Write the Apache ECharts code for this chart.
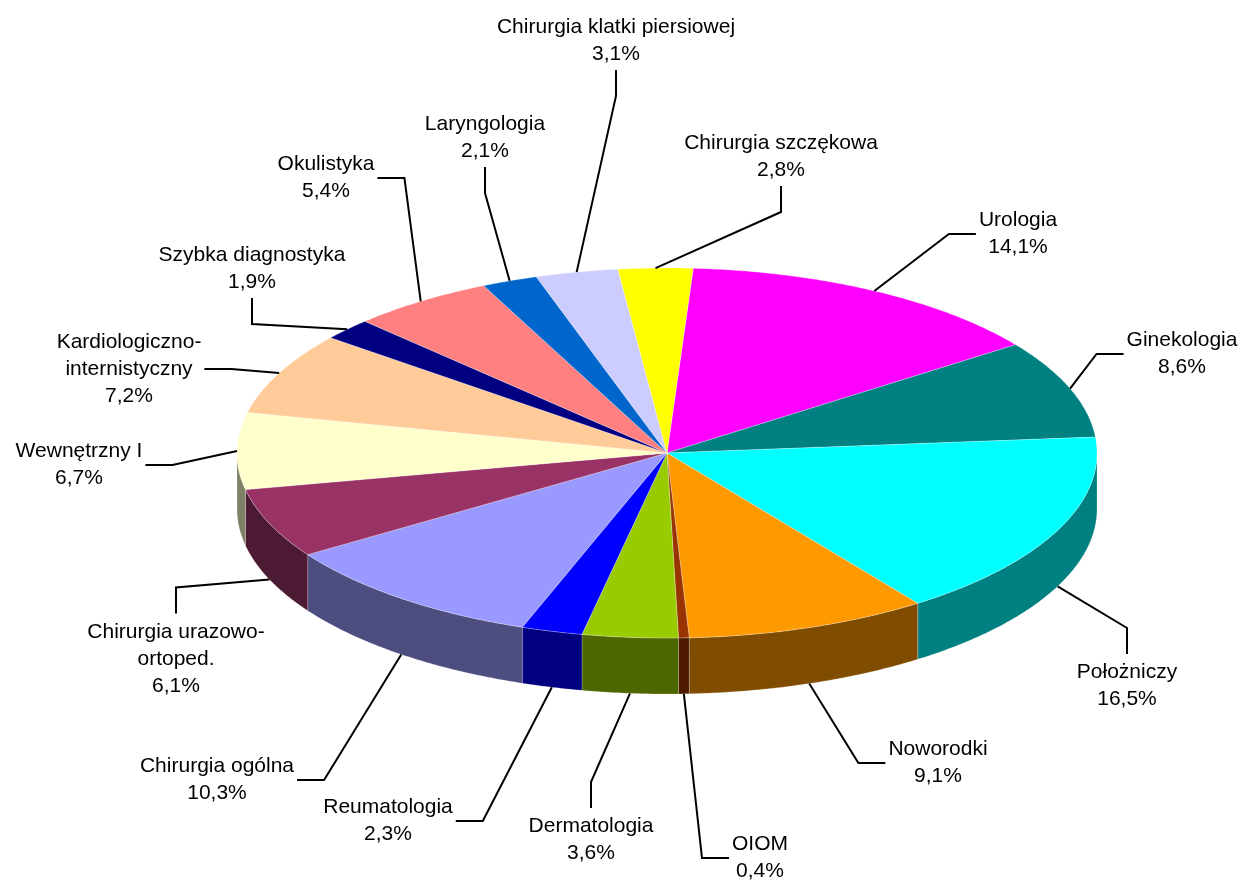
<!DOCTYPE html>
<html>
<head>
<meta charset="utf-8">
<script src="https://cdn.jsdelivr.net/npm/echarts@6/dist/echarts.min.js"></script>
<style>
html,body{margin:0;padding:0;background:#ffffff;}
#chart{width:1242px;height:880px;}
</style>
</head>
<body>
<div id="chart"></div>
<script>
// ---- data ----
const categories = [
  'Urologia', 'Ginekologia', 'Położniczy', 'Noworodki', 'OIOM', 'Dermatologia',
  'Reumatologia', 'Chirurgia ogólna', 'Chirurgia urazowo-\nortoped.', 'Wewnętrzny I',
  'Kardiologiczno-\ninternistyczny', 'Szybka diagnostyka', 'Okulistyka', 'Laryngologia',
  'Chirurgia klatki piersiowej', 'Chirurgia szczękowa'
];
const values = [14.1, 8.6, 16.5, 9.1, 0.4, 3.6, 2.3, 10.3, 6.1, 6.7, 7.2, 1.9, 5.4, 2.1, 3.1, 2.8];

// ---- styles / layout ----
const topColors = [
  '#FF00FF', '#008080', '#00FFFF', '#FF9900', '#993300', '#99CC00',
  '#0000FF', '#9999FF', '#993366', '#FFFFCC',
  '#FFCC99', '#000080', '#FF8080', '#0066CC',
  '#CCCCFF', '#FFFF00'
];
// label block centre and the side of the block the leader line attaches to
const labelLayout = [
  [1018, 234, 'l'], [1182, 354, 'l'], [1127, 686, 't'], [938, 763, 'l'],
  [760, 858, 'l'], [591, 840, 't'], [388, 821, 'r'], [217, 780, 'r'],
  [176, 659, 't'], [79, 465, 'r'], [129, 369, 'r'], [252, 269, 'b'],
  [326, 178, 'r'], [485, 138, 'b'], [616, 41, 'b'], [781, 157, 'b']
];
const PIE = { cx: 667, cy: 453, rx: 430, ry: 185, depth: 56, start: 3.5 };
const FONT = '21px "Liberation Sans", Arial, sans-serif';
const LINE_H = 27;

const total = values.reduce((a, b) => a + b, 0);
const starts = [];
(function () { let a = PIE.start; values.forEach(v => { starts.push(a); a += v / total * 360; }); })();

const measureCtx = document.createElement('canvas').getContext('2d');
measureCtx.font = FONT;

function shade(hex, f) {
  const n = parseInt(hex.slice(1), 16);
  const r = Math.round(((n >> 16) & 255) * f), g = Math.round(((n >> 8) & 255) * f), b = Math.round((n & 255) * f);
  return 'rgb(' + r + ',' + g + ',' + b + ')';
}
function pt(deg, dy) {
  const r = deg * Math.PI / 180;
  return [PIE.cx + PIE.rx * Math.sin(r), PIE.cy - PIE.ry * Math.cos(r) + (dy || 0)];
}
function arc(a0, a1, dy) {
  const n = Math.max(2, Math.ceil((a1 - a0) / 0.5));
  const pts = [];
  for (let k = 0; k <= n; k++) pts.push(pt(a0 + (a1 - a0) * k / n, dy));
  return pts;
}
function pct(v) { return v.toFixed(1).replace('.', ',') + '%'; }

function renderItem(params, api) {
  const i = params.dataIndex;
  const v = api.value(0);
  const a0 = starts[i];
  const a1 = a0 + v / total * 360;
  const children = [];

  // side wall (front half only)
  const s0 = Math.max(a0, 90), s1 = Math.min(a1, 270);
  if (s1 > s0) {
    const poly = arc(s0, s1, 0).concat(arc(s0, s1, PIE.depth).reverse());
    children.push({
      type: 'polygon', z2: 1,
      shape: { points: poly },
      style: { fill: shade(topColors[i], 0.5), stroke: 'rgba(255,255,255,0.35)', lineWidth: 0.6 }
    });
  }
  // top face
  children.push({
    type: 'polygon', z2: 2,
    shape: { points: [[PIE.cx, PIE.cy]].concat(arc(a0, a1, 0)) },
    style: { fill: topColors[i], stroke: 'rgba(255,255,255,0.45)', lineWidth: 0.6 }
  });

  // label
  const text = categories[i] + '\n' + pct(v);
  const lines = text.split('\n');
  const w = Math.max.apply(null, lines.map(s => measureCtx.measureText(s).width));
  const h = lines.length * LINE_H;
  const mid = (a0 + a1) / 2;
  const anchor = pt(mid, (mid > 90 && mid < 270) ? PIE.depth : 0);
  const [lx, ly, side] = labelLayout[i];
  let attach, elbow;
  if (side === 'l') { attach = [lx - w / 2 - 3, ly]; elbow = [attach[0] - 27, ly]; }
  else if (side === 'r') { attach = [lx + w / 2 + 3, ly]; elbow = [attach[0] + 27, ly]; }
  else if (side === 't') { attach = [lx, ly - h / 2 - 5]; elbow = [lx, attach[1] - 26]; }
  else { attach = [lx, ly + h / 2 + 2]; elbow = [lx, attach[1] + 26]; }
  children.push({
    type: 'polyline', z2: 3,
    shape: { points: [anchor, elbow, attach] },
    style: { stroke: '#000000', lineWidth: 2, fill: null }
  });
  children.push({
    type: 'text', z2: 4,
    style: {
      text: text, x: lx, y: ly, align: 'center', verticalAlign: 'middle',
      font: FONT, lineHeight: LINE_H, fill: '#000000'
    }
  });
  return { type: 'group', children: children };
}

const chart = echarts.init(document.getElementById('chart'), null, { renderer: 'canvas' });
chart.setOption({
  backgroundColor: '#ffffff',
  animation: false,
  series: [{
    type: 'custom',
    coordinateSystem: 'none',
    silent: true,
    data: values.map((v, i) => ({ name: categories[i], value: [v] })),
    renderItem: renderItem
  }]
});
</script>
</body>
</html>
